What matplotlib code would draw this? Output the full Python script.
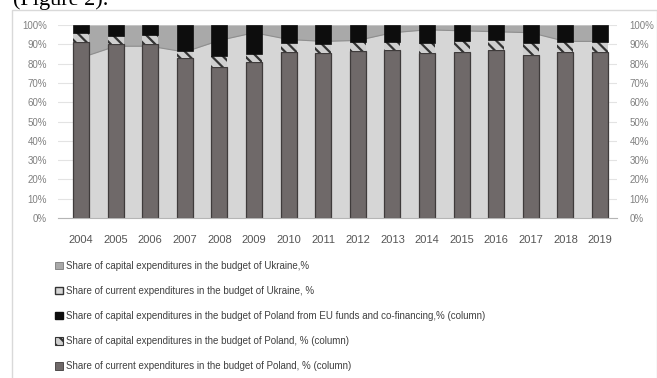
import numpy as np
import matplotlib.pyplot as plt
from matplotlib.patches import Patch, Rectangle

years = [str(y) for y in range(2004, 2020)]

# Ukraine: shares of the budget, drawn as stacked areas
ua_current = [83, 89, 89, 86, 92, 96, 92.5, 91.5, 92, 96, 97.5, 97, 96.5, 96, 91.5, 91.5]
ua_capital = [17, 11, 11, 14, 8, 4, 7.5, 8.5, 8, 4, 2.5, 3, 3.5, 4, 8.5, 8.5]

# Poland: shares of the budget, drawn as stacked columns
pl_current = [91, 90, 90, 83, 78, 81, 86, 85.5, 86.5, 87, 85.5, 86, 87, 84.5, 86, 86]
pl_capital = [5, 4.5, 5, 3.5, 6, 4, 4.5, 4.5, 4.5, 4, 5, 5.5, 5, 6, 5, 5]
pl_eu = [4, 5.5, 5, 13.5, 16, 15, 9.5, 10, 9, 9, 9.5, 8.5, 8, 9.5, 9, 9]

labels = [
    "Share of capital expenditures in the budget of Ukraine,%",
    "Share of current expenditures in the budget of Ukraine, %",
    "Share of capital expenditures in the budget of Poland from EU funds and co-financing,% (column)",
    "Share of capital expenditures in the budget of Poland, % (column)",
    "Share of current expenditures in the budget of Poland, % (column)",
]

c_ua_cap = "#a9a9a9"
c_ua_cur = "#d6d6d6"
c_pl_eu = "#0d0d0d"
c_pl_cap = "#cfcfcf"
c_pl_cur = "#6f6969"
narrow = ["Liberation Sans Narrow", "Liberation Sans"]
plt.rcParams["hatch.linewidth"] = 1.6

W, H = 657, 378
fig = plt.figure(figsize=(W / 100, H / 100), dpi=100)
fig.patch.set_facecolor("white")

# outer chart frame
fig.patches.append(Rectangle((12 / W, -0.1), 645 / W, 1 - 10 / H + 0.1,
                             transform=fig.transFigure, fill=False,
                             edgecolor="#d9d9d9", linewidth=1.0))
fig.text(13 / W, 1 - 5 / H, "(Figure 2).", fontsize=16, family="Liberation Serif",
         va="baseline", ha="left", color="black")

L, R, T, B = 58, 617, 25, 218
ax = fig.add_axes([L / W, 1 - B / H, (R - L) / W, (B - T) / H])
x = np.arange(len(years))
cur = np.array(ua_current)
cap = np.array(ua_capital)

ax.fill_between(x, 0, cur, color=c_ua_cur, linewidth=0, zorder=1)
ax.fill_between(x, cur, cur + cap, color=c_ua_cap, linewidth=0, zorder=1)
ax.plot(x, cur, color="#8f8f8f", linewidth=0.8, zorder=1.5)

w = 0.46
ax.bar(x, pl_current, w, color=c_pl_cur, edgecolor="#3f3b3b", linewidth=0.9, zorder=2)
ax.bar(x, pl_capital, w, bottom=pl_current, color=c_pl_cap, edgecolor="#333333",
       hatch="\\\\\\", linewidth=0.0, zorder=2)
bot = np.array(pl_current) + np.array(pl_capital)
ax.bar(x, pl_eu, w, bottom=bot, color=c_pl_eu, edgecolor="#0d0d0d", linewidth=0.5, zorder=2)

ax.set_xlim(-(81 - L) / 34.6, 15 + (R - 600) / 34.6)
ax.set_ylim(0, 100)
ticks = np.arange(0, 101, 10)
ax.set_yticks(ticks)
ax.set_yticklabels([f"{t}%" for t in ticks], fontsize=7, color="#808080", family=narrow)
ax.set_xticks(x)
ax.set_xticklabels(years, fontsize=8, color="#555555", family=narrow)
ax.tick_params(axis="x", length=0, pad=12)
ax.tick_params(axis="y", length=0, pad=8)
ax.grid(axis="y", color="#e3e3e3", linewidth=0.8, zorder=0)
ax.set_axisbelow(True)
for s in ["top", "left", "right"]:
    ax.spines[s].set_visible(False)
ax.spines["bottom"].set_color("#b5b5b5")

ax2 = ax.twinx()
ax2.set_ylim(0, 100)
ax2.set_yticks(ticks)
ax2.set_yticklabels([f"{t}%" for t in ticks], fontsize=7, color="#808080", family=narrow)
ax2.tick_params(length=0, pad=9)
for s in ax2.spines.values():
    s.set_visible(False)

handles = [
    Patch(facecolor=c_ua_cap, edgecolor="#7a7a7a", linewidth=0.6),
    Patch(facecolor=c_ua_cur, edgecolor="#333333", linewidth=1.0),
    Patch(facecolor=c_pl_eu, edgecolor=c_pl_eu),
    Patch(facecolor=c_pl_cap, edgecolor="#333333", hatch="\\\\\\", linewidth=0.8),
    Patch(facecolor=c_pl_cur, edgecolor="#3f3b3b", linewidth=0.6),
]
fig.legend(handles, labels, loc="upper left", bbox_to_anchor=(55 / W, 1 - 261 / H),
           frameon=False, prop={"family": narrow, "size": 7},
           handlelength=0.8, handleheight=0.8, handletextpad=0.3,
           labelspacing=1.55, borderaxespad=0, borderpad=0, labelcolor="#404040")

fig.savefig("out.png", dpi=100)
